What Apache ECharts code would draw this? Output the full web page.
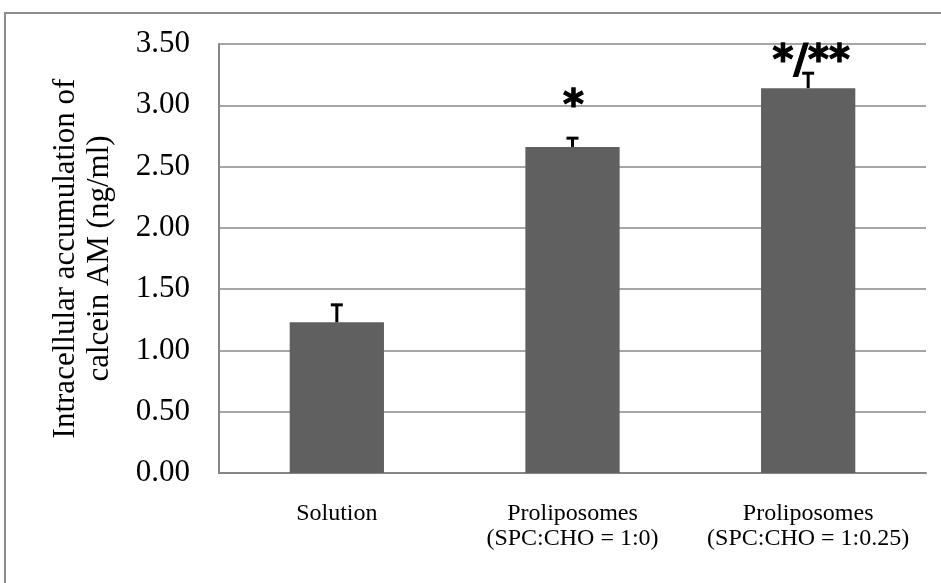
<!DOCTYPE html>
<html>
<head>
<meta charset="utf-8">
<script src="https://cdn.jsdelivr.net/npm/echarts@6/dist/echarts.min.js"></script>
<style>
  html, body { margin: 0; padding: 0; background: #fff; }
  #chart { width: 941px; height: 583px; }
</style>
</head>
<body>
<div id="chart"></div>
<script>
// Calcein AM accumulation per formulation
const categories = ['Solution', 'Proliposomes\n(SPC:CHO = 1:0)', 'Proliposomes\n(SPC:CHO = 1:0.25)'];
const means = [1.23, 2.66, 3.14];
const errors = [0.15, 0.08, 0.13];
const significance = ['', '*', '*/**'];
const yTicks = [0, 0.5, 1, 1.5, 2, 2.5, 3, 3.5];

const chart = echarts.init(document.getElementById('chart'));
const serif = '"Liberation Serif", "Times New Roman", serif';

// how far each significance mark sits above its error-bar cap (px)
const markLift = [0, 30, 10];

chart.setOption({
  animation: false,
  graphic: [{
    type: 'rect',
    shape: { x: 5, y: 13, width: 1000, height: 1000 },
    style: { fill: 'none', stroke: '#8c8c8c', lineWidth: 2 },
    silent: true
  }],
  grid: { left: 219, right: 15, top: 44, bottom: 110, containLabel: false },
  xAxis: {
    type: 'category',
    data: categories,
    axisLine: { show: true, lineStyle: { color: '#868686', width: 2 } },
    axisTick: { show: false },
    axisLabel: {
      interval: 0, hideOverlap: false,
      fontFamily: serif, fontSize: 24, color: '#000', lineHeight: 25, margin: 28
    }
  },
  yAxis: {
    type: 'value',
    min: yTicks[0],
    max: yTicks[yTicks.length - 1],
    interval: 0.5,
    name: 'Intracellular accumulation of\ncalcein AM (ng/ml)',
    nameLocation: 'middle',
    nameGap: 102,
    nameTextStyle: { fontFamily: serif, fontSize: 31, color: '#000', lineHeight: 34 },
    axisLine: { show: true, lineStyle: { color: '#868686', width: 2 } },
    axisTick: { show: false },
    splitLine: { lineStyle: { color: '#a6a6a6', width: 2 } },
    axisLabel: {
      fontFamily: serif, fontSize: 31, color: '#000', margin: 29,
      formatter: v => v.toFixed(2)
    }
  },
  series: [
    {
      type: 'bar',
      data: means,
      barWidth: '40%',
      itemStyle: { color: '#606060' }
    },
    {
      type: 'custom',
      data: means.map((m, i) => [i, m, errors[i]]),
      renderItem: (params, api) => {
        const i = api.value(0);
        const base = api.coord([i, api.value(1)]);
        const top = api.coord([i, api.value(1) + api.value(2)]);
        const children = [
          { type: 'line', shape: { x1: base[0], y1: base[1], x2: top[0], y2: top[1] },
            style: { stroke: '#000', lineWidth: 3 } },
          { type: 'line', shape: { x1: top[0] - 6, y1: top[1] + 1, x2: top[0] + 6, y2: top[1] + 1 },
            style: { stroke: '#000', lineWidth: 3 } }
        ];
        const mark = significance[i];
        if (mark) {
          children.push({
            type: 'text',
            style: {
              text: mark, x: top[0] + (mark.length > 1 ? 3 : 1), y: top[1] - markLift[i],
              fontFamily: '"DejaVu Sans", sans-serif',
              fontWeight: 'bold', fontSize: 40, fill: '#000',
              stroke: '#000', lineWidth: 1.2,
              align: 'center', verticalAlign: 'middle'
            }
          });
        }
        return { type: 'group', children };
      },
      z: 5
    }
  ]
});
</script>
</body>
</html>
